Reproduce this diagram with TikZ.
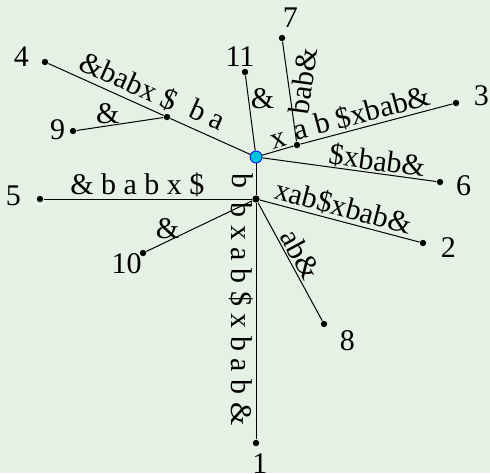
\documentclass[tikz,border=0pt]{standalone}
\usepackage{fontspec}
\setmainfont{Liberation Serif}
\definecolor{paper}{RGB}{229,241,229}
\definecolor{rootfill}{RGB}{0,196,214}
\tikzset{
  dot/.style={circle,fill=black,inner sep=0pt,minimum size=3.2pt},
  rootdot/.style={circle,fill=rootfill,draw=blue,line width=0.4pt,inner sep=0pt,minimum size=6pt},
  num/.style={font=\fontsize{15}{17}\selectfont,inner sep=0pt,anchor=center},
  arc/.style={font=\fontsize{15}{17}\selectfont,inner sep=1pt},
}

\begin{document}
\begin{tikzpicture}[x=0.5pt,y=-0.5pt,line width=0.5pt]
  \useasboundingbox[fill=paper] (0,0) rectangle (490,473);
  % inner nodes
  \node[rootdot] (r) at (256,157) {};
  \node[dot,minimum size=3.6pt] (nb) at (256,199) {};
  \node[dot] (na) at (167,117) {};
  \node[dot] (nx) at (297,145) {};
  % leaves
  \node[dot,label={[num,label distance=8.6pt]-79:1}] (l1) at (256,443) {};
  \node[dot,label={[num,label distance=11.1pt]-11:2}] (l2) at (423,243) {};
  \node[dot,label={[num,label distance=11.4pt]16:3}] (l3) at (456,103) {};
  \node[dot,label={[num,label distance=10.2pt]168:4}] (l4) at (45,62) {};
  \node[dot,label={[num,label distance=11.5pt]173:5}] (l5) at (40,199) {};
  \node[dot,label={[num,label distance=10.1pt]-10:6}] (l6) at (440,182) {};
  \node[dot,label={[num,label distance=9.2pt]68:7}] (l7) at (282,38) {};
  \node[dot,label={[num,label distance=12.4pt]-35:8}] (l8) at (324,324) {};
  \node[dot,label={[num,label distance=5.9pt]176:9}] (l9) at (73,131) {};
  \node[dot,label={[num,label distance=7.8pt]-148:10}] (l10) at (143,253) {};
  \node[dot,label={[num,label distance=6.3pt]108:11}] (l11) at (245,72) {};
  % edges
  \path (r) edge node[arc,sloped,pos=.63,above=3pt] {b a} (na);
  \path (na) edge node[arc,sloped,pos=.36,above=1pt] {\&babx \$} (l4);
  \path (na) edge node[arc,pos=.64,above] {\&} (l9);
  \path (r) edge node[arc,pos=.7,right] {\&} (l11);
  \path (r) edge node[arc,sloped,pos=.63,above] {x} (nx);
  \path (nx) edge node[arc,rotate=82,pos=.63,below=1pt] {bab\&} (l7);
  \path (nx) edge node[arc,sloped,pos=.43,above] {a b \$xbab\&} (l3);
  \path (r) edge node[arc,sloped,pos=.65,above=-1pt] {\$xbab\&} (l6);
  \path (r) edge node[arc,rotate=-90,pos=.56,below] {b} (nb);
  \path (nb) edge node[arc,pos=.55,above] {\& b a b x \$} (l5);
  \path (nb) edge node[arc,pos=.8,above] {\&} (l10);
  \path (nb) edge node[arc,rotate=-90,pos=.47,below] {b x a b \$ x b a b \&} (l1);
  \path (nb) edge node[arc,sloped,pos=.49,above] {ab\&} (l8);
  \path (nb) edge node[arc,sloped,pos=.5,above] {xab\$xbab\&} (l2);
\end{tikzpicture}
\end{document}
